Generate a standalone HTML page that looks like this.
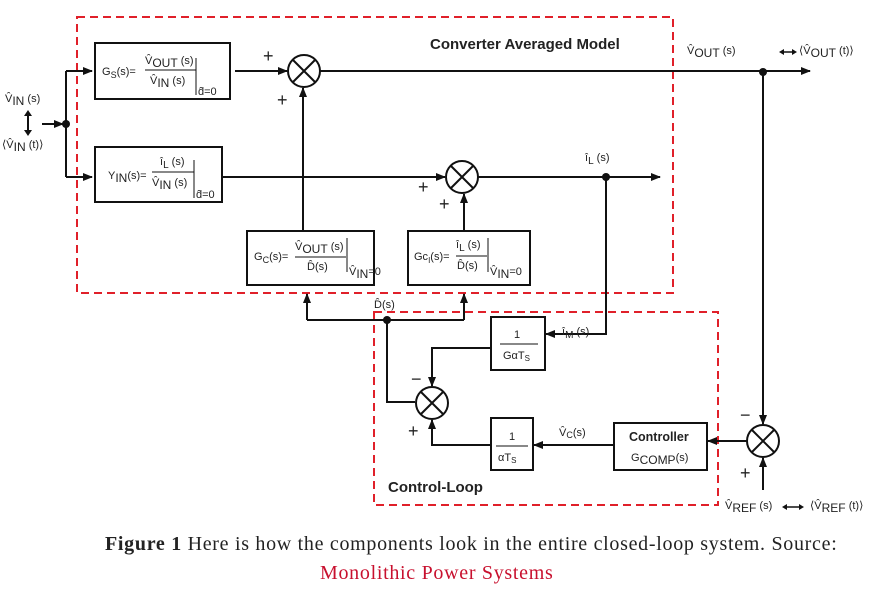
<!DOCTYPE html>
<html><head><meta charset="utf-8"><style>
html,body{margin:0;padding:0;background:#fff;width:875px;height:592px;overflow:hidden}
svg{display:block}
text{font-family:"Liberation Sans",Arial,sans-serif;fill:#222}
.cap{font-family:"Liberation Serif","DejaVu Serif",serif;font-size:20px;letter-spacing:0.7px}
</style></head><body>
<svg width="875" height="592" viewBox="0 0 875 592" xmlns="http://www.w3.org/2000/svg">
<defs><marker id="a" markerWidth="10" markerHeight="8" refX="9" refY="4" orient="auto" markerUnits="userSpaceOnUse"><path d="M0,0 L10,4 L0,8 z" fill="#111"/></marker></defs>
<g fill="none" stroke="#e0202a" stroke-width="2" stroke-dasharray="8,5">
<rect x="77" y="17" width="596" height="276"/>
<rect x="374" y="312" width="344" height="193"/>
</g>
<g stroke="#111" stroke-width="2" fill="none">
<rect x="95" y="43" width="135" height="56" fill="#fff"/>
<rect x="95" y="147" width="127" height="55" fill="#fff"/>
<rect x="247" y="231" width="127" height="54" fill="#fff"/>
<rect x="408" y="231" width="122" height="54" fill="#fff"/>
<rect x="491" y="317" width="54" height="53"/>
<rect x="491" y="418" width="42" height="52"/>
<rect x="614" y="423" width="93" height="47"/>
<circle cx="304" cy="71" r="16"/><path d="M293,60 L315,82 M315,60 L293,82"/>
<circle cx="462" cy="177" r="16"/><path d="M451,166 L473,188 M473,166 L451,188"/>
<circle cx="432" cy="403" r="16"/><path d="M421,392 L443,414 M443,392 L421,414"/>
<circle cx="763" cy="441" r="16"/><path d="M752,430 L774,452 M774,430 L752,452"/>
<path d="M235,71 H287" marker-end="url(#a)"/>
<path d="M320,71 H810" marker-end="url(#a)"/>
<path d="M763,71 V424" marker-end="url(#a)"/>
<path d="M222,177 H445" marker-end="url(#a)"/>
<path d="M478,177 H660" marker-end="url(#a)"/>
<path d="M606,177 V334 H546" marker-end="url(#a)"/>
<path d="M491,348 H432 V386" marker-end="url(#a)"/>
<path d="M303,231 V88" marker-end="url(#a)"/>
<path d="M464,231 V194" marker-end="url(#a)"/>
<path d="M307,320 H464"/><path d="M307,320 V294" marker-end="url(#a)"/><path d="M464,320 V294" marker-end="url(#a)"/>
<path d="M387,320 V402 H415"/>
<path d="M491,445 H432 V420" marker-end="url(#a)"/>
<path d="M614,445 H534" marker-end="url(#a)"/>
<path d="M747,441 H708" marker-end="url(#a)"/>
<path d="M763,490 V458" marker-end="url(#a)"/>
<path d="M66,71 V177"/><path d="M66,71 H92" marker-end="url(#a)"/><path d="M66,177 H92" marker-end="url(#a)"/>
<path d="M42,124 H63" marker-end="url(#a)"/>
<path d="M28,116 V130"/><path d="M783,52 H793" stroke-width="1.5"/><path d="M787,507 H799" stroke-width="1.5"/>
</g>
<g fill="#111">
<path d="M24,116 L28,110 L32,116 z M24,130 L28,136 L32,130 z"/>
<path d="M784,49 L779,52 L784,55 z M792,49 L797,52 L792,55 z"/>
<path d="M787,504 L782,507 L787,510 z M799,504 L804,507 L799,510 z"/>
<circle cx="66" cy="124" r="4"/><circle cx="606" cy="177" r="4"/><circle cx="763" cy="72" r="4"/><circle cx="387" cy="320" r="4"/></g>
<g font-size="11">
<text x="102" y="75">G<tspan font-size="9" dy="3">S</tspan><tspan dy="-3">(s)=</tspan></text>
<text x="145" y="64">V̂<tspan font-size="12" dy="3">OUT</tspan><tspan dy="-3"> (s)</tspan></text>
<line x1="145" y1="70" x2="196" y2="70" stroke="#111"/>
<text x="150" y="84">V̂<tspan font-size="12" dy="3">IN</tspan><tspan dy="-3"> (s)</tspan></text>
<line x1="196" y1="58" x2="196" y2="95" stroke="#111"/>
<text x="198" y="95">d̂=0</text>
<text x="108" y="179">Y<tspan font-size="12" dy="3">IN</tspan><tspan dy="-3">(s)=</tspan></text>
<text x="160" y="165">î<tspan font-size="10" dy="3">L</tspan><tspan dy="-3"> (s)</tspan></text>
<line x1="152" y1="172" x2="194" y2="172" stroke="#111"/>
<text x="152" y="186">V̂<tspan font-size="12" dy="3">IN</tspan><tspan dy="-3"> (s)</tspan></text>
<line x1="194" y1="160" x2="194" y2="198" stroke="#111"/>
<text x="196" y="198">d̂=0</text>
<text x="254" y="260">G<tspan font-size="9" dy="3">C</tspan><tspan dy="-3">(s)=</tspan></text>
<text x="295" y="250">V̂<tspan font-size="12" dy="3">OUT</tspan><tspan dy="-3"> (s)</tspan></text>
<line x1="295" y1="257" x2="346" y2="257" stroke="#111"/>
<text x="307" y="270">D̂(s)</text>
<line x1="347" y1="238" x2="347" y2="272" stroke="#111"/>
<text x="349" y="275">V̂<tspan font-size="12" dy="3">IN</tspan><tspan dy="-3">=0</tspan></text>
<text x="414" y="260">Gc<tspan font-size="8" dy="3">I</tspan><tspan dy="-3">(s)=</tspan></text>
<text x="456" y="248">î<tspan font-size="10" dy="3">L</tspan><tspan dy="-3"> (s)</tspan></text>
<line x1="456" y1="256" x2="487" y2="256" stroke="#111"/>
<text x="457" y="269">D̂(s)</text>
<line x1="488" y1="238" x2="488" y2="272" stroke="#111"/>
<text x="490" y="275">V̂<tspan font-size="12" dy="3">IN</tspan><tspan dy="-3">=0</tspan></text>
<text x="514" y="338">1</text><line x1="500" y1="344" x2="538" y2="344" stroke="#111"/>
<text x="503" y="359">GαT<tspan font-size="8" dy="2">S</tspan></text>
<text x="509" y="440">1</text><line x1="496" y1="446" x2="528" y2="446" stroke="#111"/>
<text x="498" y="461">αT<tspan font-size="8" dy="2">S</tspan></text>
<text x="629" y="441" font-weight="bold" font-size="12.5">Controller</text>
<text x="631" y="461">G<tspan font-size="12" dy="3">COMP</tspan><tspan dy="-3">(s)</tspan></text>
<text x="5" y="102">V̂<tspan font-size="12" dy="3">IN</tspan><tspan dy="-3"> (s)</tspan></text>
<text x="2" y="148">⟨V̂<tspan font-size="12" dy="3">IN</tspan><tspan dy="-3"> (t)⟩</tspan></text>
<text x="687" y="54">V̂<tspan font-size="12" dy="3">OUT</tspan><tspan dy="-3"> (s)</tspan></text>
<text x="799" y="54">⟨V̂<tspan font-size="12" dy="3">OUT</tspan><tspan dy="-3"> (t)⟩</tspan></text>
<text x="585" y="161">î<tspan font-size="10" dy="3">L</tspan><tspan dy="-3"> (s)</tspan></text>
<text x="374" y="308">D̂(s)</text>
<text x="562" y="335">î<tspan font-size="10" dy="3">M</tspan><tspan dy="-3"> (s)</tspan></text>
<text x="559" y="436">V̂<tspan font-size="9" dy="2">C</tspan><tspan dy="-2">(s)</tspan></text>
<text x="725" y="509">V̂<tspan font-size="12" dy="3">REF</tspan><tspan dy="-3"> (s)</tspan></text>
<text x="810" y="509">⟨V̂<tspan font-size="12" dy="3">REF</tspan><tspan dy="-3"> (t)⟩</tspan></text>
</g>
<g font-size="18"><text x="263" y="62">+</text><text x="277" y="106">+</text><text x="418" y="193">+</text><text x="439" y="210">+</text>
<text x="408" y="437">+</text><text x="411" y="385">−</text><text x="740" y="479">+</text><text x="740" y="421">−</text></g>
<text x="430" y="49" font-weight="bold" font-size="15">Converter Averaged Model</text>
<text x="388" y="492" font-weight="bold" font-size="15">Control-Loop</text>
<text x="105" y="550" class="cap"><tspan font-weight="bold">Figure 1</tspan> Here is how the components look in the entire closed-loop system. Source:</text>
<text x="320" y="579" class="cap" style="fill:#c8102e">Monolithic Power Systems</text>
</svg>
</body></html>
